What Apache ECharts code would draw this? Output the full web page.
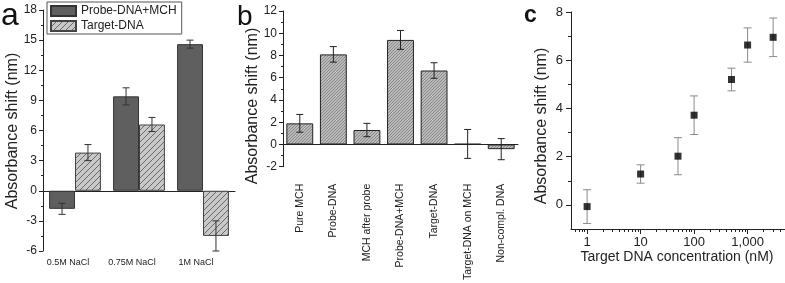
<!DOCTYPE html>
<html>
<head>
<meta charset="utf-8">
<script src="https://cdn.jsdelivr.net/npm/echarts@6/dist/echarts.min.js"></script>
<style>
  html, body { margin: 0; padding: 0; background: #fff; }
  #chart { width: 785px; height: 283px; }
</style>
</head>
<body>
<div id="chart"></div>
<script>
var FONT = '"Liberation Sans", Arial, sans-serif';

// panel a
var saltLabels = ['0.5M NaCl', '0.75M NaCl', '1M NaCl'];
var probeMchVals = [-1.8, 9.4, 14.6];
var probeMchErr = [0.55, 0.85, 0.4];
var targetVals = [3.8, 6.6, -4.5];
var targetErr = [0.8, 0.7, 1.5];

// panel b
var stepLabels = ['Pure MCH', 'Probe-DNA', 'MCH after probe', 'Probe-DNA+MCH', 'Target-DNA', 'Target-DNA on MCH', 'Non-compl. DNA'];
var stepVals = [1.9, 8.1, 1.3, 9.4, 6.65, 0.05, -0.42];
var stepErr = [0.8, 0.7, 0.6, 0.85, 0.7, 1.3, 0.95];

// panel c
var concVals = [1, 10, 50, 100, 500, 1000, 3000];
var shiftVals = [-0.07, 1.28, 2.02, 3.72, 5.2, 6.63, 6.95];
var shiftErr = [0.7, 0.38, 0.77, 0.8, 0.47, 0.71, 0.8];
var logLabels = [1, 10, 100, 1000];
var logMinor = [0.6, 0.7, 0.8, 0.9, 2, 3, 4, 5, 6, 7, 8, 9, 20, 30, 40, 50, 60, 70, 80, 90,
                200, 300, 400, 500, 600, 700, 800, 900, 2000, 3000, 4000, 5000];

function hatch(bg, fg, step) {
  var c = document.createElement('canvas');
  c.width = step; c.height = step;
  var g = c.getContext('2d');
  g.fillStyle = bg;
  g.fillRect(0, 0, step, step);
  g.strokeStyle = fg;
  g.lineWidth = 1;
  g.beginPath();
  g.moveTo(-1, step + 1); g.lineTo(step + 1, -1);
  g.moveTo(-1, 1); g.lineTo(1, -1);
  g.moveTo(step - 1, step + 1); g.lineTo(step + 1, step - 1);
  g.stroke();
  return { image: c, repeat: 'repeat' };
}

function withRange(xs, vals, errs) {
  var out = [];
  for (var i = 0; i < vals.length; i++) {
    out.push([xs ? xs[i] : i, vals[i] - errs[i], vals[i] + errs[i]]);
  }
  return out;
}

// error bars; shift = which bar of a two-bar group (or null)
function errBars(color, cap, shift, gap) {
  return function (params, api) {
    var lo = api.coord([api.value(0), api.value(1)]);
    var hi = api.coord([api.value(0), api.value(2)]);
    var dx = 0;
    if (shift != null) {
      var bw = api.size([1, 0])[0] * (1 - gap) / 2;
      dx = shift * bw / 2;
    }
    var x = lo[0] + dx;
    var st = { stroke: color, lineWidth: 1 };
    return {
      type: 'group',
      children: [
        { type: 'line', shape: { x1: x, y1: lo[1], x2: x, y2: hi[1] }, style: st },
        { type: 'line', shape: { x1: x - cap, y1: lo[1], x2: x + cap, y2: lo[1] }, style: st },
        { type: 'line', shape: { x1: x - cap, y1: hi[1], x2: x + cap, y2: hi[1] }, style: st }
      ]
    };
  };
}

var axisLine = { lineStyle: { color: '#222', width: 1 } };
var tickLbl = { color: '#222', fontFamily: FONT };

var chart = echarts.init(document.getElementById('chart'), null, { renderer: 'canvas' });

var option = {
  animation: false,
  backgroundColor: '#fff',
  textStyle: { fontFamily: FONT },
  grid: [
    { left: 43, top: 10, width: 192, height: 241 },
    { left: 283, top: 11, width: 235, height: 187 },
    { left: 571, top: 12, width: 215, height: 217 }
  ],
  legend: {
    left: 47, top: 2, orient: 'vertical', icon: 'rect',
    itemWidth: 25, itemHeight: 10, itemGap: 3,
    padding: [3, 5, 2, 3],
    borderColor: '#555', borderWidth: 1,
    textStyle: { fontSize: 12, color: '#222', fontFamily: FONT },
    data: ['Probe-DNA+MCH', 'Target-DNA']
  },
  xAxis: [
    { // 0: a labels at bottom
      type: 'category', gridIndex: 0, data: saltLabels, position: 'bottom',
      axisLine: { show: false, onZero: false }, axisTick: { show: false },
      axisLabel: Object.assign({ fontSize: 9, margin: 7, padding: [0, 14, 0, 0] }, tickLbl)
    },
    { // 1: a zero line, boundary ticks
      type: 'category', gridIndex: 0, data: saltLabels,
      axisLine: Object.assign({ onZero: true }, axisLine),
      axisTick: { length: 3, lineStyle: { color: '#222' } },
      axisLabel: { show: false }
    },
    { // 2: a centre ticks
      type: 'category', gridIndex: 0, data: saltLabels,
      axisLine: { show: false, onZero: true },
      axisTick: { alignWithLabel: true, length: 3, lineStyle: { color: '#222' } },
      axisLabel: { show: false }
    },
    { // 3: b
      type: 'category', gridIndex: 1, data: stepLabels,
      axisLine: Object.assign({ onZero: true }, axisLine),
      axisTick: { alignWithLabel: true, length: 3, lineStyle: { color: '#222' } },
      axisLabel: Object.assign({ rotate: 90, fontSize: 10.5, margin: 17, interval: 0 }, tickLbl)
    },
    { // 4: b boundary ticks
      type: 'category', gridIndex: 1, data: stepLabels,
      axisLine: { show: false, onZero: true },
      axisTick: { length: 2, inside: true, lineStyle: { color: '#222' } },
      axisLabel: { show: false }
    },
    { // 5: c log axis
      type: 'log', gridIndex: 2, min: 0.5, max: 5000, logBase: 10,
      axisLine: Object.assign({ onZero: false }, axisLine),
      axisTick: { length: 5, customValues: logLabels, lineStyle: { color: '#222' } },
      axisLabel: Object.assign({ fontSize: 13, margin: 7, customValues: logLabels }, tickLbl),
      splitLine: { show: false }
    },
    { // 6: c minor ticks
      type: 'log', gridIndex: 2, min: 0.5, max: 5000, logBase: 10, position: 'bottom',
      axisLine: { show: false, onZero: false },
      axisTick: { length: 3, customValues: logMinor, lineStyle: { color: '#222' } },
      axisLabel: { show: false },
      splitLine: { show: false }
    }
  ],
  yAxis: [
    {
      type: 'value', gridIndex: 0, min: -6, max: 18, interval: 3,
      axisLine: Object.assign({ show: true }, axisLine),
      axisTick: { show: true, length: 4, lineStyle: { color: '#222' } },
      minorTick: { show: true, splitNumber: 2, length: 2, lineStyle: { color: '#222' } },
      axisLabel: Object.assign({ fontSize: 12, margin: 6 }, tickLbl),
      splitLine: { show: false }
    },
    {
      type: 'value', gridIndex: 1, min: -2, max: 12, interval: 2,
      axisLine: Object.assign({ show: true }, axisLine),
      axisTick: { show: true, length: 4, lineStyle: { color: '#222' } },
      minorTick: { show: true, splitNumber: 2, length: 2, lineStyle: { color: '#222' } },
      axisLabel: Object.assign({ fontSize: 12, margin: 6 }, tickLbl),
      splitLine: { show: false }
    },
    {
      type: 'value', gridIndex: 2, min: -1, max: 8,
      axisLine: Object.assign({ show: true }, axisLine),
      axisTick: { show: true, length: 5, customValues: [0, 2, 4, 6, 8], lineStyle: { color: '#222' } },
      axisLabel: Object.assign({ fontSize: 13, margin: 8, customValues: [0, 2, 4, 6, 8] }, tickLbl),
      splitLine: { show: false }
    },
    {
      type: 'value', gridIndex: 2, min: -1, max: 8, position: 'left',
      axisLine: { show: false },
      axisTick: { show: true, length: 3, customValues: [1, 3, 5, 7], lineStyle: { color: '#222' } },
      axisLabel: { show: false },
      splitLine: { show: false }
    }
  ],
  series: [
    {
      name: 'Probe-DNA+MCH', type: 'bar', xAxisIndex: 1, yAxisIndex: 0,
      data: probeMchVals, barGap: '0%', barCategoryGap: '19%',
      itemStyle: { color: '#5f5f5f', borderColor: '#333', borderWidth: 1 }
    },
    {
      name: 'Target-DNA', type: 'bar', xAxisIndex: 1, yAxisIndex: 0,
      data: targetVals, barGap: '0%', barCategoryGap: '19%',
      itemStyle: { color: hatch('#c8c8c8', '#6a6a6a', 6), borderColor: '#444', borderWidth: 1 }
    },
    {
      type: 'custom', xAxisIndex: 1, yAxisIndex: 0, z: 5,
      renderItem: errBars('#333', 3.5, -1, 0.19),
      data: withRange(null, probeMchVals, probeMchErr)
    },
    {
      type: 'custom', xAxisIndex: 1, yAxisIndex: 0, z: 5,
      renderItem: errBars('#333', 3.5, 1, 0.19),
      data: withRange(null, targetVals, targetErr)
    },
    {
      name: 'steps', type: 'bar', xAxisIndex: 3, yAxisIndex: 1,
      data: stepVals, barCategoryGap: '20%',
      itemStyle: { color: hatch('#bababa', '#8a8a8a', 3), borderColor: '#222', borderWidth: 1 }
    },
    {
      type: 'custom', xAxisIndex: 3, yAxisIndex: 1, z: 5,
      renderItem: errBars('#222', 3.5, null, 0),
      data: withRange(null, stepVals, stepErr)
    },
    {
      type: 'custom', xAxisIndex: 5, yAxisIndex: 2, z: 3,
      renderItem: errBars('#8a8a8a', 4, null, 0),
      data: withRange(concVals, shiftVals, shiftErr)
    },
    {
      name: 'conc', type: 'scatter', xAxisIndex: 5, yAxisIndex: 2, z: 6,
      symbol: 'rect', symbolSize: 7,
      itemStyle: { color: '#000' },
      data: concVals.map(function (c, i) { return [c, shiftVals[i]]; })
    }
  ],
  graphic: [
    { type: 'text', x: 1, y: 16, style: { text: 'a', font: '32px ' + FONT, fill: '#111', verticalAlign: 'middle' } },
    { type: 'text', x: 237, y: 17, style: { text: 'b', font: '28px ' + FONT, fill: '#111', verticalAlign: 'middle' } },
    { type: 'text', x: 524, y: 16, style: { text: 'c', font: 'bold 23px ' + FONT, fill: '#111', verticalAlign: 'middle' } },
    { type: 'text', x: 13, y: 131, rotation: Math.PI / 2, style: { text: 'Absorbance shift (nm)', font: '16px ' + FONT, fill: '#222', align: 'center', verticalAlign: 'middle' } },
    { type: 'text', x: 253, y: 106, rotation: Math.PI / 2, style: { text: 'Absorbance shift (nm)', font: '16px ' + FONT, fill: '#222', align: 'center', verticalAlign: 'middle' } },
    { type: 'text', x: 542, y: 126, rotation: Math.PI / 2, style: { text: 'Absorbance shift (nm)', font: '16px ' + FONT, fill: '#222', align: 'center', verticalAlign: 'middle' } },
    { type: 'text', x: 677, y: 257, style: { text: 'Target DNA concentration (nM)', font: '14px ' + FONT, fill: '#222', align: 'center', verticalAlign: 'middle' } }
  ]
};

chart.setOption(option);
</script>
</body>
</html>
